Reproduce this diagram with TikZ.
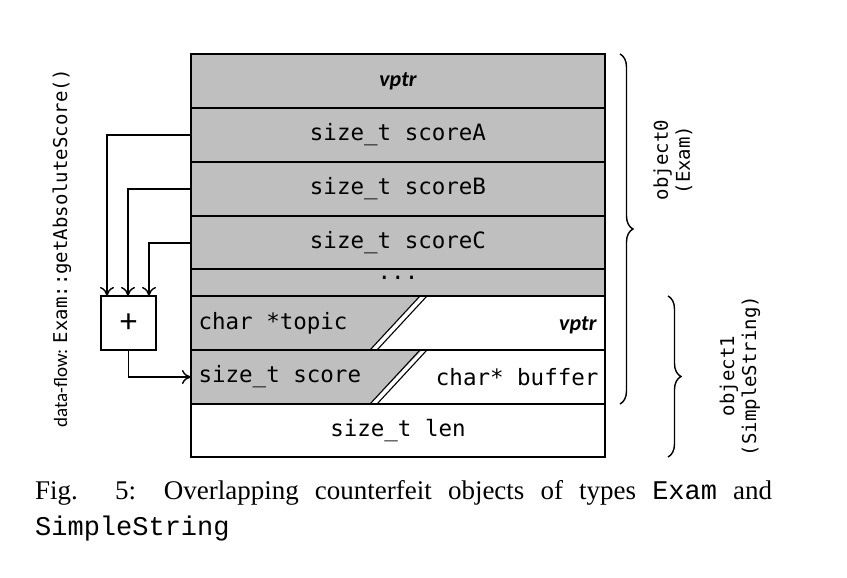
\documentclass[tikz,border=0pt]{standalone}
\usepackage{fontspec}
\setmainfont{Liberation Serif}
\newfontfamily\mono{DejaVu Sans Mono}
\newfontfamily\cmono{Liberation Mono}
\newfontfamily\sans{Carlito}
\usetikzlibrary{decorations.pathreplacing,arrows.meta}
\begin{document}
\begin{tikzpicture}[x=1pt,y=-1pt,
  cell/.style={draw,line width=1.4pt},
  lbl/.style={font=\mono\fontsize{22.5}{26}\selectfont},
  arr/.style={line width=1.4pt,-{To[length=9pt,width=14pt]}},
  br/.style={decorate,decoration={brace,amplitude=13pt},line width=1.4pt}]
\useasboundingbox (0,0) rectangle (847,578);
\fill[gray!50] (191,54) rectangle (605,296);
\fill[gray!50] (191,296) -- (420,296) -- (370,350) -- (191,350) -- cycle;
\fill[gray!50] (191,350) -- (422,350) -- (370,404) -- (191,404) -- cycle;
\foreach \y in {108,162,216,269,296,350,404} \draw[line width=1.4pt] (191,\y) -- (605,\y);
\draw[cell] (191,54) rectangle (605,457);
\foreach \a/\b in {296/350,350/404}{
  \draw[line width=1.1pt] (370,\b) -- (420,\a);
  \draw[line width=1.1pt] (377,\b) -- (427,\a);}
\node[font=\sans\bfseries\itshape\fontsize{22}{24}\selectfont] (v0) at (398,81) {vptr};
\node[lbl] (sa) at (398,135) {size\_t scoreA};
\node[lbl] (sb) at (398,189) {size\_t scoreB};
\node[lbl] (sc) at (398,243) {size\_t scoreC};
\node[lbl] (dots) at (398,278) {...};
\node[lbl,anchor=west] (tp) at (195,323) {char *topic};
\node[font=\sans\bfseries\itshape\fontsize{22}{24}\selectfont,anchor=east] (v1) at (600,325) {vptr};
\node[lbl,anchor=west] (sc1) at (195,377) {size\_t score};
\node[lbl,anchor=east] (buf) at (602,377) {char* buffer};
\node[lbl] (len) at (398,431) {size\_t len};
\node[draw,line width=1.4pt,minimum width=55pt,minimum height=54pt,font=\sans\fontsize{34}{34}\selectfont] (plus) at (128.5,323) {+};
\coordinate (a1) at (191,135); \coordinate (a2) at (191,189); \coordinate (a3) at (191,243);
\coordinate (in) at (191,377);
\draw[arr] (a1) -| (107,296);
\draw[arr] (a2) -| (128,296);
\draw[arr] (a3) -| (149,296);
\draw[arr] (plus.south) |- (in);
\node[rotate=90,font=\sans\fontsize{19}{21}\selectfont] (df) at (62,248) {data-flow: {\mono Exam::getAbsoluteScore()}};
\draw[br] (620,54) -- (620,404);
\node[rotate=90,align=center,font=\mono\fontsize{19}{22}\selectfont] (o0) at (673,160) {object0\\(Exam)};
\draw[br] (668,296) -- (668,457);
\node[rotate=90,align=center,font=\mono\fontsize{19}{22}\selectfont] (o1) at (740,376) {object1\\(SimpleString)};
\node[anchor=north west,text width=737pt,inner sep=0pt,align=justify,font=\fontsize{27}{36}\selectfont] (cap) at (35,480) {Fig. 5: Overlapping counterfeit objects of types {\cmono Exam} and\linebreak {\cmono SimpleString}};
\end{tikzpicture}
\end{document}
